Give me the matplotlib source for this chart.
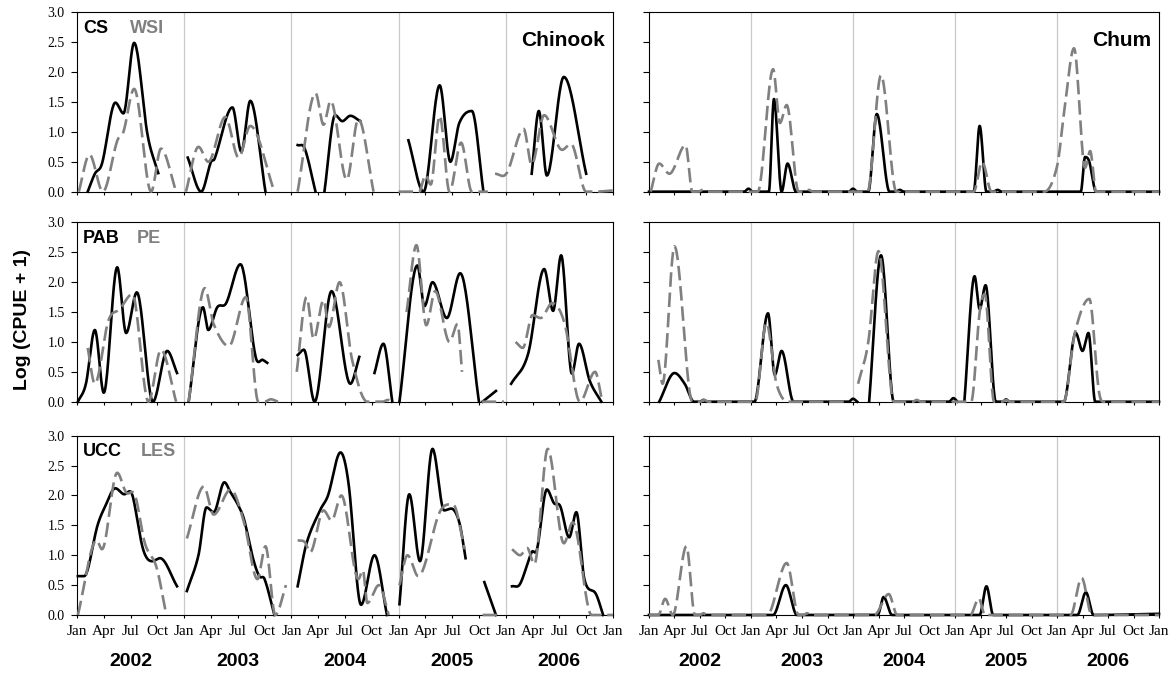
import numpy as np
import matplotlib.pyplot as plt

nan = np.nan

# x values are months since Jan 2002, nan breaks the line
# Chinook
cs_m = [1.2, 2.0, 2.8, 4.3, 5.2, 6.4, 7.9, 9.1, nan,
        12.4, 13.9, 15.0, 15.4, 17.4, 18.4, 19.4, 21.1, nan,
        24.7, 25.5, 26.7, nan, 27.7, 28.9, 29.7, 30.6, 31.7, nan,
        37.1, 38.8, 40.6, 41.8, 42.8, 44.2, 45.5, nan,
        50.9, 51.7, 52.6, 54.5, 57.0]
cs_v = [0, 0.3, 0.47, 1.49, 1.31, 2.49, 0.95, 0.31, nan,
        0.57, 0, 0.5, 0.55, 1.41, 0.67, 1.52, 0, nan,
        0.78, 0.72, 0, nan, 0, 1.28, 1.18, 1.27, 1.18, nan,
        0.86, 0, 1.78, 0.5, 1.15, 1.35, 0, nan,
        0.3, 1.35, 0.27, 1.92, 0.3]
wsi_m = [0.2, 1.4, 2.9, 4.5, 5.2, 6.4, 8.3, 9.4, 11.1, nan,
         12.2, 13.6, 14.7, 16.6, 18.1, 19.4, 22.1, nan,
         24.7, 26.7, 27.6, 28.4, 30.2, 31.5, 33.2, nan,
         36.0, 38.3, 39.0, 39.6, 40.6, 41.7, 43.0, 44.2, 46.0, nan,
         46.8, 48.1, 50.0, 50.9, 52.3, 54.3, 55.3, 57.0, 58.0, 60.0]
wsi_v = [0, 0.62, 0, 0.85, 1.0, 1.72, 0, 0.72, 0, nan,
         0, 0.75, 0.5, 1.25, 0.57, 1.1, 0, nan,
         0, 1.65, 1.12, 1.52, 0.2, 1.22, 0, nan,
         0, 0, 0.28, 0.12, 1.27, 0, 0.82, 0, 0, nan,
         0.3, 0.31, 1.05, 0.45, 1.28, 0.7, 0.8, 0, 0, 0.02]

pab_m = [0.1, 1.0, 2.0, 3.0, 4.5, 5.5, 6.7, 8.5, 10.1, 11.2, nan,
         12.5, 14.1, 14.7, 15.7, 16.7, 18.3, 20.0, 20.8, 21.3, nan,
         24.7, 25.4, 26.6, 28.5, 30.6, 31.6, nan, 33.3, 34.3, 35.3, nan,
         36.1, 38.1, 38.9, 39.8, 41.4, 42.9, 45.0, nan, 45.4, 46.9, nan,
         48.6, 50.5, 52.3, 53.3, 54.2, 55.4, 56.2, 57.4, 58.7]
pab_v = [0, 0.3, 1.2, 0.15, 2.25, 1.15, 1.83, 0, 0.85, 0.48, nan,
         0, 1.58, 1.2, 1.58, 1.65, 2.3, 0.75, 0.7, 0.65, nan,
         0.78, 0.87, 0, 1.85, 0.3, 0.75, nan, 0.48, 0.97, 0, nan,
         0, 2.28, 1.6, 2.0, 1.4, 2.15, 0, nan, 0, 0.18, nan,
         0.3, 0.8, 2.22, 1.52, 2.45, 0.47, 0.97, 0.35, 0]
pe_m = [1.2, 2.0, 3.5, 4.8, 6.2, 8.0, 9.4, 11.1, nan,
        12.5, 14.3, 15.3, 17.0, 18.9, 20.3, 21.0, 21.7, 22.5, nan,
        24.6, 25.7, 26.5, 27.6, 28.2, 29.4, 30.8, 32.5, 34.2, 34.8, 35.4, nan,
        36.9, 38.0, 39.1, 40.1, 41.7, 42.6, 43.1, nan, 45.3, 47.8, nan,
        49.1, 49.9, 51.0, 51.9, 53.2, 54.6, 56.3, 58.0, 58.8]
pe_v = [0.9, 0.3, 1.35, 1.55, 1.8, 0, 0.87, 0, nan,
        0, 1.9, 1.3, 0.93, 1.75, 0, 0, 0.04, 0, nan,
        0.5, 1.75, 1.05, 1.7, 1.25, 2.0, 0.7, 0, 0, 0.03, 0, nan,
        1.5, 2.62, 1.28, 1.85, 1.0, 1.3, 0.5, nan, 0, 0, nan,
        1.0, 0.9, 1.45, 1.4, 1.65, 1.3, 0, 0.5, 0]

ucc_m = [0.1, 0.8, 2.3, 3.1, 4.3, 5.3, 5.9, 6.3, 7.4, 8.4, 9.3, 11.2, nan,
         12.3, 13.6, 14.5, 15.3, 16.5, 17.2, 18.0, 18.7, 19.7, 20.4, 21.0, 22.1, nan,
         24.7, 25.7, 27.2, 28.1, 29.5, 30.4, 31.8, 33.3, 34.7, nan,
         36.1, 37.2, 38.4, 39.8, 41.1, 41.9, 42.8, 43.5, nan, 45.6, 46.9, nan,
         48.7, 49.6, 50.9, 51.5, 52.6, 53.4, 54.1, 55.1, 55.9, 56.8, 58.1, 58.9]
ucc_v = [0.65, 0.65, 1.5, 1.8, 2.12, 2.02, 2.07, 1.95, 1.1, 0.9, 0.95, 0.48, nan,
         0.4, 1.0, 1.8, 1.72, 2.22, 2.05, 1.85, 1.6, 0.95, 0.65, 0.6, 0, nan,
         0.48, 1.2, 1.75, 2.0, 2.72, 2.2, 0.17, 1.0, 0, nan,
         0.18, 2.02, 0.9, 2.78, 1.75, 1.78, 1.55, 0.95, nan, 0.55, 0, nan,
         0.48, 0.52, 1.05, 1.1, 2.1, 1.87, 1.82, 1.3, 1.72, 0.6, 0.35, 0]
les_m = [0.1, 2.2, 2.8, 4.5, 5.5, 6.5, 7.6, 8.9, 10.0, nan,
         12.3, 14.2, 15.3, 17.2, 18.7, 20.2, 21.1, 22.2, 23.4, nan,
         24.7, 25.5, 26.1, 27.6, 28.5, 29.6, 31.5, 32.0, 32.5, 33.8, 34.9, nan,
         36.1, 37.0, 38.2, 40.6, 42.1, 43.4, nan, 45.4, 47.0, nan,
         48.7, 49.6, 50.4, 51.2, 52.7, 54.5, 55.5, 57.6, 60.0]
les_v = [0, 1.25, 1.1, 2.38, 2.05, 2.0, 1.2, 0.8, 0, nan,
         1.28, 2.15, 1.68, 2.1, 1.55, 0.6, 1.15, 0, 0.5, nan,
         1.25, 1.22, 1.05, 1.75, 1.58, 2.0, 0.6, 0.75, 0.2, 0.5, 0, nan,
         0.5, 1.0, 0.65, 1.72, 1.85, 1.1, nan, 0, 0, nan,
         1.1, 1.0, 1.12, 0.85, 2.78, 1.2, 1.55, 0, 0]

# Chum
chum_cs_m = [0, 11.2, 11.7, 12.2, 14.1, 14.7, 15.6, 16.3, 17.3, 23.5, 24.0, 24.5,
             25.8, 26.8, 28.3, 29.0, 29.5, 30.0, 38.2, 38.9, 39.7, 40.5, 41.0, 41.5,
             50.8, 51.3, 51.8, 52.6, 60]
chum_cs_v = [0, 0, 0.05, 0, 0, 1.55, 0, 0.47, 0, 0, 0.05, 0,
             0, 1.3, 0, 0, 0.03, 0, 0, 1.1, 0, 0, 0.03, 0,
             0, 0.58, 0.5, 0, 0]
chum_wsi_m = [0.2, 1.2, 2.4, 4.3, 5.1, 5.8, 6.3, 6.8, 12.8, 14.6, 15.4, 16.2, 17.6,
              18.3, 18.8, 19.3, 25.7, 27.3, 29.1, 38.2, 39.2, 40.3,
              46.5, 48.0, 48.9, 50.0, 51.3, 51.9, 52.6, 60]
chum_wsi_v = [0, 0.47, 0.3, 0.78, 0, 0, 0.03, 0, 0, 2.05, 1.15, 1.45, 0,
              0, 0.03, 0, 0, 1.95, 0, 0, 0.5, 0,
              0, 0.42, 1.4, 2.4, 0.4, 0.68, 0, 0]

chum_pab_m = [1.2, 3.0, 4.2, 5.3, 6.0, 6.4, 6.8, 12.4, 14.0, 14.8, 15.6, 16.8, 17.5,
              23.5, 24.0, 24.5, nan, 25.9, 27.3, 28.8, 35.3, 35.8, 36.3, nan,
              37.1, 38.3, 38.9, 39.6, 40.8, 41.6, 42.0, 42.4,
              48.8, 50.2, 51.0, 51.7, 52.5, 60]
chum_pab_v = [0, 0.48, 0.3, 0, 0, 0.03, 0, 0, 1.48, 0.45, 0.85, 0.05, 0,
              0, 0.05, 0, nan, 0, 2.45, 0, 0, 0.06, 0, nan,
              0, 2.1, 1.55, 1.95, 0, 0, 0.04, 0,
              0, 1.15, 0.85, 1.15, 0, 0]
chum_pe_m = [1.1, 1.6, 3.0, 5.1, 6.0, 6.5, 7.0, 12.5, 13.8, 15.0, 16.4, 23.5, nan,
             24.6, 25.8, 27.0, 28.8, 31.0, 31.5, 32.0,
             37.9, 38.9, 39.5, 40.6, 41.5, 42.0, 42.5,
             48.8, 50.1, 51.8, 52.9, 53.5, 60]
chum_pe_v = [0.7, 0.3, 2.6, 0, 0, 0.03, 0, 0, 1.32, 0.3, 0, 0, nan,
             0.3, 1.0, 2.52, 0, 0, 0.03, 0,
             0, 1.5, 1.8, 0, 0, 0.03, 0,
             0, 1.15, 1.72, 0.2, 0, 0]

chum_ucc_m = [0, 14.6, 16.1, 17.4, 26.9, 27.6, 28.6, 38.9, 39.7, 40.5, 50.4, 51.4, 52.3, 60]
chum_ucc_v = [0, 0, 0.5, 0, 0, 0.3, 0, 0, 0.48, 0, 0, 0.38, 0, 0.02]
chum_les_m = [0, 1.1, 1.9, 2.8, 4.4, 5.4, 6.0, 6.4, 6.8, 13.9, 16.2, 17.6, 18.2, 18.6, 19.0,
              26.5, 28.2, 29.2, 37.8, 38.8, 39.5, 49.6, 50.9, 52.1, 60]
chum_les_v = [0, 0, 0.27, 0, 1.15, 0, 0, 0.03, 0, 0, 0.87, 0, 0, 0.03, 0,
              0, 0.35, 0, 0, 0.28, 0, 0, 0.62, 0, 0]

years = ['2002', '2003', '2004', '2005', '2006']
months = ['Jan', 'Apr', 'Jul', 'Oct']
site_pairs = [('CS', 'WSI'), ('PAB', 'PE'), ('UCC', 'LES')]


def smooth(m, v, n=25):
    # piecewise cubic hermite, flat at local peaks (like excel smoothing)
    m = np.asarray(m, float)
    v = np.asarray(v, float)
    out_x, out_y = [], []
    cut = np.where(np.isnan(v))[0]
    for seg in np.split(np.arange(len(v)), cut):
        seg = seg[~np.isnan(v[seg])]
        if len(seg) < 2:
            continue
        x = m[seg]
        y = v[seg]
        k = len(x)
        t = np.zeros(k)
        for i in range(k):
            if i == 0:
                t[i] = (y[1] - y[0]) / (x[1] - x[0])
            elif i == k - 1:
                t[i] = (y[-1] - y[-2]) / (x[-1] - x[-2])
            elif (y[i] - y[i-1]) * (y[i+1] - y[i]) <= 0:
                t[i] = 0
            else:
                t[i] = (y[i+1] - y[i-1]) / (x[i+1] - x[i-1])
        u = np.linspace(0, 1, n)
        h00 = 2*u**3 - 3*u**2 + 1
        h10 = u**3 - 2*u**2 + u
        h01 = -2*u**3 + 3*u**2
        h11 = u**3 - u**2
        for i in range(k - 1):
            h = x[i+1] - x[i]
            out_x.append(x[i] + u*h)
            out_y.append(h00*y[i] + h10*h*t[i] + h01*y[i+1] + h11*h*t[i+1])
        out_x.append([nan])
        out_y.append([nan])
    xs = np.concatenate(out_x)
    ys = np.clip(np.concatenate(out_y), 0, 3)
    return xs, ys


chinook = [(cs_m, cs_v, wsi_m, wsi_v), (pab_m, pab_v, pe_m, pe_v), (ucc_m, ucc_v, les_m, les_v)]
chum = [(chum_cs_m, chum_cs_v, chum_wsi_m, chum_wsi_v),
        (chum_pab_m, chum_pab_v, chum_pe_m, chum_pe_v),
        (chum_ucc_m, chum_ucc_v, chum_les_m, chum_les_v)]

serif = 'Liberation Serif'
sans = 'Liberation Sans'

fig = plt.figure(figsize=(11.7, 6.73), dpi=100)
bottoms = [0.7152, 0.4031, 0.0862]
h = 0.2664
cols = [(0.0658, 0.4581), (0.5547, 0.4359)]
second_x = [0.099, 0.112, 0.119]

for c, (left, width) in enumerate(cols):
    data = chinook if c == 0 else chum
    for r in range(3):
        ax = fig.add_axes([left, bottoms[r], width, h])
        bm, bv, gm, gv = data[r]
        for yr in range(1, 5):
            ax.axvline(12*yr, color='#c8c8c8', lw=0.9, zorder=0)
        x, y = smooth(bm, bv)
        ax.plot(x, y, color='black', lw=1.9, clip_on=False, zorder=2)
        x, y = smooth(gm, gv)
        ax.plot(x, y, color='#808080', lw=1.9, ls=(0, (5.5, 2.2)), clip_on=False, zorder=3)
        ax.set_xlim(0, 60)
        ax.set_ylim(0, 3)
        ax.set_yticks(np.arange(0, 3.01, 0.5))
        ax.set_xticks(np.arange(0, 61, 3))
        ax.tick_params(axis='y', direction='out', length=4, width=0.8, pad=5)
        ax.tick_params(axis='x', direction='out', length=2.2, width=0.8, pad=5)
        for s in ax.spines.values():
            s.set_linewidth(0.8)
            s.set_color('black')
        if c == 0:
            ax.set_yticklabels(['%.1f' % v for v in np.arange(0, 3.01, 0.5)],
                               family=serif, fontsize=10)
            ax.text(0.011, 0.91, site_pairs[r][0], transform=ax.transAxes, family=sans,
                    fontweight='bold', fontsize=13, va='center', ha='left', color='black')
            ax.text(second_x[r], 0.91, site_pairs[r][1], transform=ax.transAxes, family=sans,
                    fontweight='bold', fontsize=13, va='center', ha='left', color='#808080')
        else:
            ax.set_yticklabels([])
        if r == 0:
            ax.text(0.985, 0.845, 'Chinook' if c == 0 else 'Chum', transform=ax.transAxes,
                    family=sans, fontweight='bold', fontsize=15, ha='right', va='center')
        if r == 2:
            labels = [months[i % 4] for i in range(21)]
            ax.set_xticklabels(labels, family=serif, fontsize=11)
            for i, yname in enumerate(years):
                ax.text(6 + 12*i, -0.262, yname, transform=ax.get_xaxis_transform(),
                        family=sans, fontweight='bold', fontsize=14, ha='center', va='center')
        else:
            ax.set_xticklabels([])

fig.text(0.019, 0.525, 'Log (CPUE + 1)', rotation=90, family=sans, fontweight='bold',
         fontsize=14, ha='center', va='center')

fig.savefig('out.png', dpi=100)
